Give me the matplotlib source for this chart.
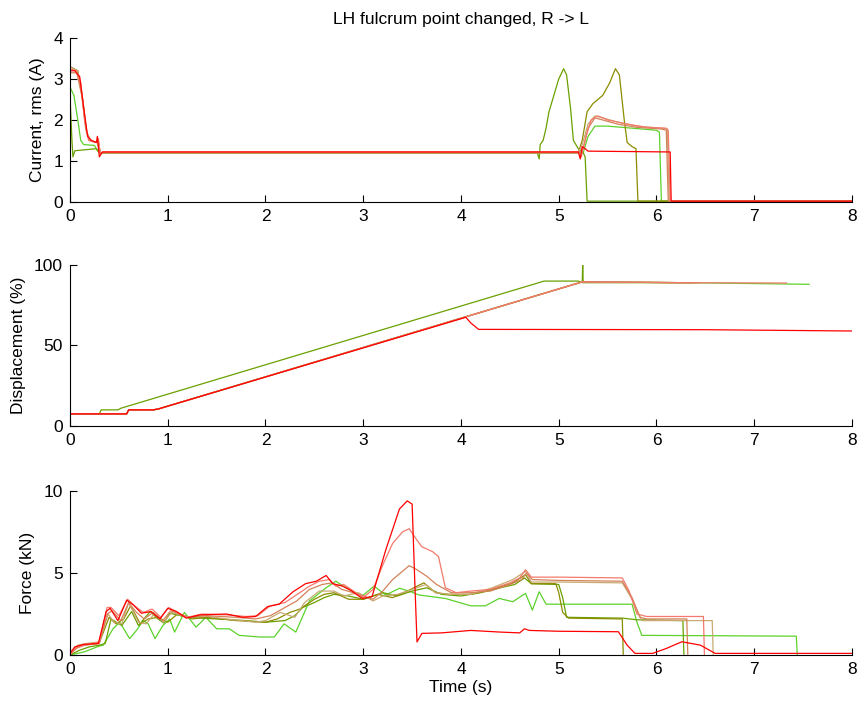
import matplotlib
matplotlib.use("Agg")
import matplotlib.pyplot as plt

plt.rcParams['font.family'] = ['Liberation Sans', 'DejaVu Sans']
plt.rcParams['font.size'] = 12.5

colors = {
    'red': '#ff0000',
    'lred': '#f37a6c',
    'brown': '#d4825a',
    'tan': '#c8aa72',
    'olive': '#8c8c00',
    'ogreen': '#6aa000',
    'green': '#5cd22a',
}
order = ['green', 'ogreen', 'olive', 'tan', 'brown', 'lred', 'red']

# ---- current, rms (A) ----
cur_t = {
    'red': [0, 0.05, 0.1, 0.14, 0.18, 0.22, 0.27, 0.28, 0.3, 0.33, 5.2, 5.22, 5.24, 5.27, 5.3, 6.14, 6.15, 8],
    'lred': [0, 0.06, 0.11, 0.15, 0.19, 0.27, 0.29, 0.31, 0.34, 5.2, 5.23, 5.28, 5.33, 5.4, 5.5, 5.7, 5.9, 6.1, 6.12, 6.14, 8],
    'brown': [0, 0.07, 0.12, 0.16, 0.2, 0.27, 0.29, 0.31, 5.2, 5.25, 5.3, 5.37, 5.45, 5.6, 5.8, 6.05, 6.1, 6.12, 8],
    'tan': [0, 0.08, 0.13, 0.17, 0.21, 0.28, 0.31, 5.2, 5.24, 5.3, 5.37, 5.45, 5.6, 5.8, 6.05, 6.11, 6.13, 8],
    'olive': [0, 0.08, 0.13, 0.17, 0.21, 0.28, 0.31, 5.2, 5.24, 5.29, 5.35, 5.45, 5.52, 5.58, 5.62, 5.67, 5.7, 5.75, 5.79, 5.81, 8],
    'ogreen': [0, 0.02, 0.03, 0.05, 0.27, 0.3, 4.78, 4.8, 4.81, 4.84, 4.87, 4.9, 4.95, 5.0, 5.05, 5.08, 5.12, 5.15, 5.2, 5.25, 5.27, 5.29, 8],
    'green': [0, 0.04, 0.08, 0.11, 0.14, 0.25, 0.28, 0.32, 5.2, 5.25, 5.3, 5.37, 5.5, 6.0, 6.03, 6.05, 8],
}
cur_v = {
    'red': [3.2, 3.2, 3.05, 2.3, 1.6, 1.5, 1.45, 1.6, 1.1, 1.22, 1.22, 1.05, 1.35, 1.3, 1.24, 1.22, 0.02, 0.02],
    'lred': [3.25, 3.2, 2.9, 2.0, 1.5, 1.45, 1.55, 1.15, 1.22, 1.22, 1.1, 1.6, 2.0, 2.1, 2.0, 1.9, 1.82, 1.8, 1.75, 0.02, 0.02],
    'brown': [3.15, 3.15, 2.6, 1.8, 1.5, 1.45, 1.5, 1.2, 1.2, 1.3, 1.8, 2.05, 2.0, 1.9, 1.82, 1.78, 1.75, 0.02, 0.02],
    'tan': [3.3, 3.2, 2.5, 1.7, 1.5, 1.45, 1.2, 1.2, 1.4, 1.9, 2.1, 2.05, 1.95, 1.85, 1.8, 1.78, 0.02, 0.02],
    'olive': [3.3, 3.2, 2.5, 1.7, 1.5, 1.45, 1.2, 1.2, 1.5, 2.2, 2.4, 2.6, 2.9, 3.25, 3.1, 2.0, 1.45, 1.35, 1.3, 0.02, 0.02],
    'ogreen': [2.6, 1.5, 1.1, 1.25, 1.3, 1.2, 1.2, 1.05, 1.4, 1.5, 1.8, 2.2, 2.6, 3.0, 3.25, 3.1, 2.3, 1.5, 1.3, 1.2, 1.1, 0.02, 0.02],
    'green': [2.8, 2.6, 2.0, 1.5, 1.4, 1.38, 1.25, 1.2, 1.2, 1.2, 1.6, 1.85, 1.85, 1.75, 1.7, 0.02, 0.02],
}

# ---- displacement (%) ----
main_t = [0, 0.58, 0.6, 0.85, 0.9, 5.24, 6.3]
main_v = [7.5, 7.5, 10, 10, 10.5, 89.5, 89]
disp_t = {
    'red': [0, 0.58, 0.6, 0.85, 0.9, 4.05, 4.1, 4.18, 6.5, 8],
    'lred': main_t + [7.33],
    'brown': main_t + [6.45],
    'tan': main_t + [6.3],
    'olive': main_t + [6.35],
    'ogreen': [0, 0.3, 0.32, 0.49, 0.52, 4.85, 5.2, 5.24, 5.245, 5.25, 6.3, 6.4],
    'green': main_t + [7.56],
}
disp_v = {
    'red': [7.5, 7.5, 10, 10, 10.5, 67.5, 64, 60, 59.8, 59],
    'lred': main_v + [88.8],
    'brown': main_v + [89],
    'tan': main_v + [89],
    'olive': main_v + [89],
    'ogreen': [7.5, 7.5, 10, 10, 11, 90, 90, 89, 100, 89, 89, 89],
    'green': main_v + [88],
}

# ---- force (kN) ----
force_t = {
    'red': [0, 0.05, 0.14, 0.29, 0.37, 0.41, 0.49, 0.58, 0.65, 0.73, 0.83, 0.92, 1.0, 1.09, 1.19, 1.33, 1.6, 1.77,
            1.9, 2.02, 2.14, 2.28, 2.41, 2.52, 2.62, 2.69, 2.79, 2.87, 2.99, 3.09, 3.23, 3.37, 3.45, 3.5, 3.53, 3.55,
            3.6, 3.8, 4.1, 4.4, 4.6, 4.65, 4.7, 5.0, 5.61, 5.7, 5.78, 5.96, 6.1, 6.26, 6.45, 6.6, 8.0],
    'lred': [0, 0.06, 0.15, 0.3, 0.38, 0.42, 0.5, 0.59, 0.66, 0.75, 0.84, 0.93, 1.01, 1.1, 1.2, 1.35, 1.6, 1.8, 1.92,
             2.05, 2.2, 2.3, 2.45, 2.55, 2.65, 2.72, 2.8, 2.9, 3.0, 3.1, 3.2, 3.3, 3.4, 3.47, 3.55, 3.6, 3.71, 3.77,
             3.84, 3.95, 4.1, 4.3, 4.5, 4.6, 4.66, 4.72, 5.0, 5.65, 5.72, 5.8, 5.9, 6.2, 6.48, 6.49],
    'brown': [0, 0.07, 0.15, 0.3, 0.38, 0.43, 0.52, 0.6, 0.68, 0.76, 0.85, 0.95, 1.03, 1.12, 1.22, 1.4, 1.7, 1.9,
              2.05, 2.2, 2.32, 2.45, 2.58, 2.68, 2.78, 2.9, 3.0, 3.1, 3.2, 3.3, 3.4, 3.47, 3.55, 3.65, 3.75, 3.9, 4.1,
              4.3, 4.5, 4.62, 4.67, 4.73, 5.0, 5.65, 5.75, 5.83, 5.9, 6.31, 6.32],
    'tan': [0, 0.08, 0.16, 0.3, 0.39, 0.45, 0.53, 0.6, 0.7, 0.78, 0.86, 0.96, 1.04, 1.2, 1.35, 1.6, 1.9, 2.0, 2.15,
            2.3, 2.4, 2.55, 2.7, 2.8, 2.95, 3.1, 3.2, 3.35, 3.5, 3.64, 3.74, 3.88, 4.1, 4.32, 4.53, 4.66, 4.72, 5.0,
            5.65, 5.75, 5.85, 6.57, 6.58],
    'olive': [0, 0.1, 0.2, 0.3, 0.4, 0.47, 0.55, 0.62, 0.72, 0.8, 0.9, 1.0, 1.1, 1.25, 1.4, 1.7, 2.0, 2.12, 2.25,
              2.35, 2.5, 2.6, 2.7, 2.85, 3.0, 3.15, 3.3, 3.45, 3.62, 3.74, 3.88, 4.1, 4.32, 4.53, 4.66, 4.72, 4.97,
              5.0, 5.04, 5.1, 5.65, 5.66],
    'ogreen': [0, 0.1, 0.2, 0.3, 0.36, 0.42, 0.53, 0.63, 0.7, 0.82, 0.9, 0.96, 1.02, 1.2, 1.5, 1.8, 2.0, 2.2, 2.3,
               2.38, 2.5, 2.6, 2.7, 2.85, 3.0, 3.2, 3.35, 3.5, 3.65, 3.8, 4.0, 4.2, 4.4, 4.55, 4.65, 4.72, 5.0, 5.04,
               5.08, 5.65, 5.8, 6.27, 6.28],
    'green': [0, 0.15, 0.3, 0.34, 0.44, 0.51, 0.61, 0.68, 0.75, 0.8, 0.87, 0.95, 1.02, 1.07, 1.17, 1.29, 1.39, 1.5,
              1.63, 1.73, 1.94, 2.09, 2.19, 2.31, 2.45, 2.62, 2.72, 2.82, 2.99, 3.11, 3.23, 3.37, 3.47, 3.57, 3.84,
              4.1, 4.25, 4.39, 4.53, 4.66, 4.73, 4.8, 4.87, 5.75, 5.8, 5.85, 7.43, 7.44],
}
force_v = {
    'red': [0.1, 0.5, 0.65, 0.7, 2.65, 2.85, 2.1, 3.35, 3.05, 2.55, 2.65, 2.2, 2.85, 2.65, 2.25, 2.45, 2.5, 2.3,
            2.35, 2.95, 3.1, 3.85, 4.35, 4.5, 4.85, 4.35, 4.2, 3.95, 3.45, 3.56, 6.4, 8.9, 9.4, 9.2, 4.0, 0.8,
            1.32, 1.35, 1.5, 1.4, 1.35, 1.6, 1.5, 1.45, 1.42, 0.6, 0.1, 0.1, 0.4, 0.81, 0.6, 0.1, 0.1],
    'lred': [0, 0.4, 0.6, 0.8, 2.9, 2.9, 2.4, 3.4, 3.0, 2.6, 2.8, 2.3, 2.9, 2.6, 2.3, 2.5, 2.45, 2.35, 2.4, 3.0,
             3.2, 3.6, 4.2, 4.5, 4.6, 4.2, 4.3, 3.9, 3.5, 4.0, 5.5, 6.8, 7.5, 7.7, 7.0, 6.6, 6.3, 6.0, 4.1, 3.8,
             3.9, 4.0, 4.4, 4.7, 5.2, 4.75, 4.75, 4.7, 3.9, 2.5, 2.35, 2.35, 2.35, 0.05],
    'brown': [0.05, 0.5, 0.6, 0.7, 2.5, 2.7, 2.1, 3.2, 2.6, 2.2, 2.6, 2.1, 2.7, 2.5, 2.3, 2.4, 2.3, 2.2, 2.4, 2.9,
              3.3, 4.0, 4.3, 4.4, 4.0, 3.8, 3.6, 3.4, 3.9, 4.6, 5.1, 5.45, 5.2, 4.8, 4.3, 3.8, 3.8, 3.9, 4.3, 4.6,
              5.0, 4.6, 4.55, 4.5, 3.5, 2.3, 2.2, 2.2, 0.05],
    'tan': [0.1, 0.6, 0.7, 0.8, 2.5, 2.0, 1.9, 3.2, 2.0, 1.9, 2.5, 2.0, 2.6, 2.3, 2.4, 2.2, 2.0, 2.1, 2.6, 2.3,
            3.2, 3.9, 3.9, 3.6, 3.8, 3.3, 3.6, 3.7, 4.0, 4.3, 3.8, 3.7, 3.7, 4.1, 4.6, 5.1, 4.45, 4.45, 4.4, 3.4,
            2.1, 2.1, 0.05],
    'olive': [0.05, 0.6, 0.65, 0.75, 2.3, 1.9, 2.2, 3.0, 1.9, 2.2, 2.3, 2.0, 2.5, 2.2, 2.3, 2.1, 2.0, 2.2, 2.6,
              2.8, 3.4, 3.7, 3.8, 3.4, 3.4, 3.7, 3.5, 3.9, 4.4, 3.8, 3.7, 3.7, 4.0, 4.4, 4.9, 4.35, 4.35, 3.8, 2.6,
              2.25, 2.2, 0.05],
    'ogreen': [0, 0.3, 0.5, 0.6, 0.7, 2.2, 1.8, 2.65, 1.8, 2.65, 2.2, 1.95, 2.55, 2.3, 2.2, 2.1, 2.0, 2.1, 2.4,
               2.9, 3.2, 3.5, 3.7, 3.6, 3.4, 3.8, 3.6, 3.9, 4.1, 3.7, 3.6, 3.8, 4.1, 4.3, 4.7, 4.35, 4.3, 3.5, 2.3,
               2.25, 2.15, 2.1, 0.05],
    'green': [0, 0.2, 0.55, 0.6, 1.6, 2.0, 1.0, 1.5, 2.1, 1.9, 1.0, 1.8, 2.2, 1.4, 2.6, 1.7, 2.3, 1.6, 1.6, 1.2,
              1.1, 1.1, 1.9, 1.4, 3.3, 4.1, 4.5, 4.1, 3.6, 4.2, 3.66, 4.07, 3.9, 3.66, 3.45, 3.0, 3.0, 3.45, 3.25,
              3.76, 2.74, 3.86, 3.1, 3.1, 2.0, 1.2, 1.15, 0.05],
}

fig = plt.figure(figsize=(8.62, 7.07), dpi=100)
boxes = [[0.0812, 0.7143, 0.9072, 0.232],
         [0.0812, 0.3975, 0.9072, 0.2277],
         [0.0812, 0.0735, 0.9072, 0.232]]
panels = [(cur_t, cur_v, (0, 4), [0, 1, 2, 3, 4], 'Current, rms (A)'),
          (disp_t, disp_v, (0, 100), [0, 50, 100], 'Displacement (%)'),
          (force_t, force_v, (0, 10), [0, 5, 10], 'Force (kN)')]

axes = []
for box, (tt, vv, ylim, yticks, ylabel) in zip(boxes, panels):
    ax = fig.add_axes(box)
    for name in order:
        ax.plot(tt[name], vv[name], color=colors[name], lw=0.9)
    ax.set_xlim(0, 8)
    ax.set_ylim(*ylim)
    ax.set_xticks(range(9))
    ax.set_yticks(yticks)
    ax.set_ylabel(ylabel, labelpad=6)
    ax.spines['top'].set_visible(False)
    ax.spines['right'].set_visible(False)
    ax.tick_params(direction='in', length=5, pad=5)
    axes.append(ax)

axes[0].set_title('LH fulcrum point changed, R -> L', fontsize=12.5, pad=10)
axes[2].set_xlabel('Time (s)', labelpad=2)

fig.savefig('out.png', dpi=100)
